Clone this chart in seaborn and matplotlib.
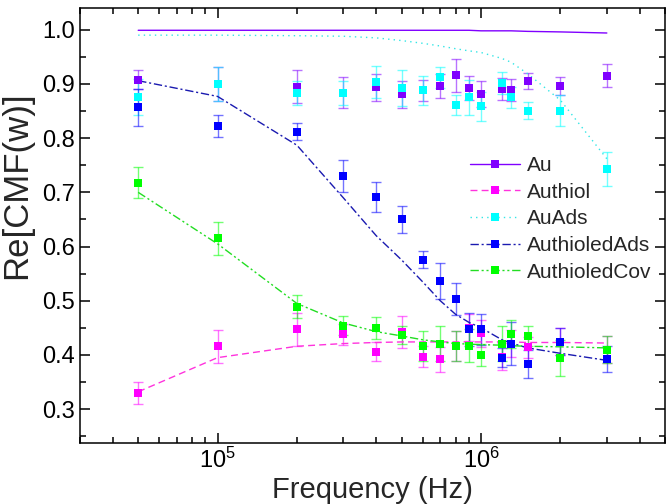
import numpy as np
import pandas as pd
import matplotlib
matplotlib.use("Agg")
import matplotlib.pyplot as plt
from matplotlib.lines import Line2D
from matplotlib.ticker import MultipleLocator, LogLocator, NullFormatter
import seaborn as sns

# --- data ---
freq = [5e4, 1e5, 2e5, 3e5, 4e5, 5e5, 6e5, 7e5, 8e5, 9e5, 1e6, 1.2e6, 1.3e6, 1.5e6, 2e6, 3e6]

au = [0.908, 0.900, 0.895, 0.884, 0.894, 0.881, 0.888, 0.896, 0.916, 0.893, 0.881, 0.891, 0.889, 0.905, 0.896, 0.915]
au_err = [0.018, 0.031, 0.030, 0.029, 0.025, 0.025, 0.020, 0.022, 0.030, 0.022, 0.024, 0.020, 0.020, 0.015, 0.016, 0.021]
au_fit = [0.999, 0.999, 0.999, 0.999, 0.999, 0.999, 0.999, 0.999, 0.999, 0.999, 0.998, 0.998, 0.998, 0.997, 0.996, 0.994]

authiol = [0.330, 0.416, 0.447, 0.438, 0.406, 0.442, 0.397, 0.392, 0.416, 0.450, 0.440, 0.397, 0.421, 0.414, 0.424, 0.410]
authiol_err = [0.020, 0.030, 0.030, 0.020, 0.018, 0.030, 0.020, 0.023, 0.028, 0.025, 0.025, 0.025, 0.025, 0.020, 0.025, 0.025]
authiol_fit = [0.332, 0.395, 0.416, 0.421, 0.423, 0.424, 0.424, 0.424, 0.424, 0.424, 0.424, 0.424, 0.424, 0.423, 0.423, 0.422]

auads = [0.876, 0.900, 0.883, 0.884, 0.904, 0.893, 0.888, 0.912, 0.861, 0.875, 0.859, 0.902, 0.875, 0.851, 0.851, 0.743]
auads_err = [0.034, 0.031, 0.022, 0.022, 0.030, 0.033, 0.027, 0.020, 0.018, 0.033, 0.027, 0.020, 0.020, 0.016, 0.028, 0.032]
auads_fit = [0.990, 0.990, 0.989, 0.988, 0.985, 0.980, 0.975, 0.970, 0.965, 0.961, 0.958, 0.947, 0.940, 0.919, 0.870, 0.762]

ads = [0.857, 0.822, 0.812, 0.730, 0.691, 0.650, 0.576, 0.537, 0.503, 0.447, 0.447, 0.395, 0.421, 0.383, 0.424, 0.393]
ads_err = [0.034, 0.020, 0.016, 0.029, 0.028, 0.025, 0.016, 0.033, 0.030, 0.030, 0.028, 0.017, 0.040, 0.026, 0.025, 0.024]
ads_fit = [0.906, 0.877, 0.787, 0.690, 0.620, 0.575, 0.535, 0.500, 0.475, 0.460, 0.450, 0.428, 0.422, 0.413, 0.403, 0.390]

cov = [0.718, 0.615, 0.489, 0.454, 0.450, 0.437, 0.416, 0.421, 0.416, 0.417, 0.400, 0.421, 0.438, 0.435, 0.394, 0.410]
cov_err = [0.028, 0.030, 0.021, 0.017, 0.020, 0.016, 0.028, 0.032, 0.028, 0.030, 0.020, 0.032, 0.026, 0.018, 0.033, 0.025]
cov_fit = [0.700, 0.605, 0.495, 0.459, 0.443, 0.435, 0.428, 0.424, 0.421, 0.420, 0.419, 0.418, 0.417, 0.416, 0.415, 0.413]

names = ["Au", "Authiol", "AuAds", "AuthioledAds", "AuthioledCov"]
colors = ["#8000FF", "#FF00FF", "#00FFFF", "#0000FF", "#00FF00"]
line_colors = ["#8000FF", "#FF33DD", "#33E6E6", "#1A1AB0", "#22DD22"]
styles = ["-", (0, (5, 3)), (0, (1, 3)), (0, (6, 2, 1.5, 2)), (0, (6, 2, 1.5, 2, 1.5, 2))]

series = [
    (au, au_err, au_fit),
    (authiol, authiol_err, authiol_fit),
    (auads, auads_err, auads_fit),
    (ads, ads_err, ads_fit),
    (cov, cov_err, cov_fit),
]

# --- style ---
sns.set_style("ticks")
plt.rcParams["font.family"] = ["Liberation Sans", "DejaVu Sans"]
plt.rcParams["mathtext.default"] = "regular"

fig = plt.figure(figsize=(6.7, 5.04), dpi=100)
ax = fig.add_axes([0.119, 0.121, 0.874, 0.863])

handles = []
for name, (vals, errs, fit), c, lc, ls in zip(names, series, colors, line_colors, styles):
    df = pd.DataFrame({"freq": freq, "val": vals, "err": errs, "fit": fit})
    ax.errorbar(df["freq"], df["val"], yerr=df["err"], fmt="none", ecolor=c,
                elinewidth=1, capsize=3.5, capthick=1, alpha=0.55, zorder=2)
    sns.lineplot(data=df, x="freq", y="fit", ax=ax, color=lc, linestyle=ls,
                 linewidth=1, zorder=3)
    sns.scatterplot(data=df, x="freq", y="val", ax=ax, color=c, marker="s",
                    s=36, linewidth=0, zorder=4)
    handles.append(Line2D([], [], color=lc, linestyle=ls, linewidth=1,
                          marker="s", markersize=6, markerfacecolor=c,
                          markeredgewidth=0, label=name))

ax.set_xscale("log")
ax.set_xlim(3.0e4, 5.0e6)
ax.set_ylim(0.2375, 1.04)
ax.yaxis.set_major_locator(MultipleLocator(0.1))
ax.yaxis.set_minor_locator(MultipleLocator(0.05))
ax.xaxis.set_major_locator(LogLocator(base=10))
ax.xaxis.set_minor_locator(LogLocator(base=10, subs=np.arange(2, 10)))
ax.xaxis.set_minor_formatter(NullFormatter())

ax.tick_params(which="both", direction="in", top=True, right=True, width=1.1,
               labelsize=17, colors="black")
ax.tick_params(which="major", length=7)
ax.tick_params(which="minor", length=4)
for sp in ax.spines.values():
    sp.set_linewidth(1.1)
    sp.set_color("black")

ax.set_xlabel("Frequency (Hz)", fontsize=21, labelpad=2)
ax.set_ylabel("Re[CMF(w)]", fontsize=25)
ax.yaxis.set_label_coords(-0.08, 0.593)

ax.legend(handles=handles, loc="upper left", bbox_to_anchor=(0.667, 0.66),
          frameon=False, fontsize=15, handlelength=2.4, handletextpad=0.3,
          labelspacing=0.37, borderpad=0, borderaxespad=0)

fig.savefig("out.png", dpi=100)
